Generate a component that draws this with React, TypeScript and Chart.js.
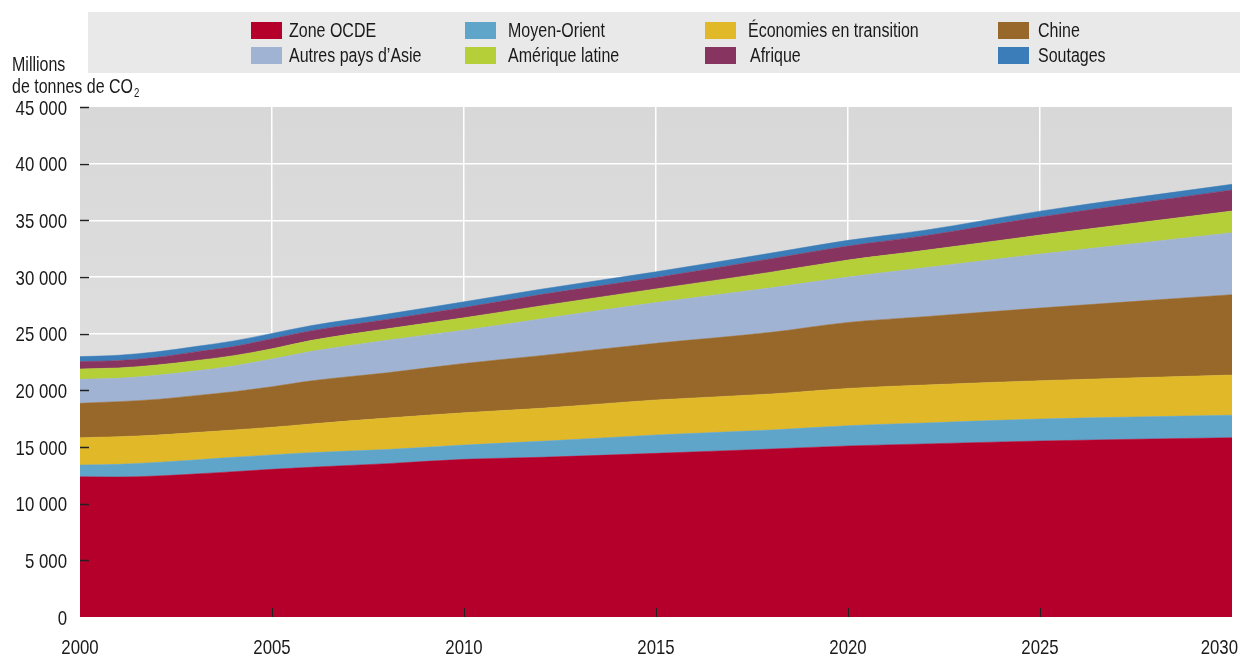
import React, { useEffect, useRef } from "react";
import { Chart, registerables } from "chart.js";

Chart.register(...registerables);

const FONT = "'Liberation Sans', Arial, sans-serif";
const SX = 0.8; // horizontal condensing of text

// Years
const years = [2000, 2001, 2002, 2003, 2004, 2005, 2006, 2008, 2010, 2012, 2015, 2018, 2020, 2022, 2025, 2030];

// Series values (Mt CO2), bottom to top
const zoneOCDE = [12380, 12350, 12440, 12620, 12820, 13030, 13210, 13530, 13910, 14090, 14440, 14820, 15090, 15270, 15530, 15820];
const moyenOrient = [1030, 1120, 1200, 1240, 1270, 1270, 1290, 1250, 1260, 1410, 1620, 1680, 1790, 1850, 1940, 1980];
const economiesTransition = [2410, 2440, 2410, 2410, 2410, 2440, 2530, 2770, 2850, 2910, 3090, 3180, 3290, 3350, 3380, 3550];
const chine = [3040, 3090, 3150, 3260, 3380, 3580, 3800, 4000, 4350, 4650, 5000, 5440, 5820, 6030, 6410, 7090];
const autresAsie = [2120, 2070, 2120, 2180, 2270, 2440, 2590, 2880, 2940, 3240, 3590, 3930, 4010, 4320, 4760, 5470];
const ameriqueLatine = [910, 910, 910, 910, 910, 910, 970, 1000, 1090, 1150, 1210, 1380, 1500, 1530, 1680, 1910];
const afrique = [645, 645, 680, 770, 800, 885, 855, 825, 910, 1000, 1000, 1180, 1235, 1295, 1590, 1860];
const soutages = [440, 470, 490, 470, 500, 470, 450, 470, 500, 470, 510, 500, 500, 480, 520, 500];

const seriesLabels = [
  "Zone OCDE",
  "Moyen-Orient",
  "Économies en transition",
  "Chine",
  "Autres pays d’Asie",
  "Amérique latine",
  "Afrique",
  "Soutages",
];
const seriesColors = ["#b5002c", "#5fa5c9", "#e1b827", "#98682a", "#a1b3d3", "#b4cf37", "#873461", "#3a7db8"];
const seriesData = [zoneOCDE, moyenOrient, economiesTransition, chine, autresAsie, ameriqueLatine, afrique, soutages];

const legendOrder = [0, 1, 2, 3, 4, 5, 6, 7];

const xTickValues = [2000, 2005, 2010, 2015, 2020, 2025, 2030];
const yTickValues = [0, 5000, 10000, 15000, 20000, 25000, 30000, 35000, 40000, 45000];

const fmtY = (v: number) => (v === 0 ? "0" : `${v / 1000} 000`);

function drawText(c: CanvasRenderingContext2D, text: string, x: number, y: number, size: number, align: "left" | "right" | "center" = "left", baseline: CanvasTextBaseline = "alphabetic") {
  c.save();
  c.font = `${size}px ${FONT}`;
  c.textAlign = "left";
  c.textBaseline = baseline;
  const w = c.measureText(text).width * SX;
  let left = x;
  if (align === "right") left = x - w;
  else if (align === "center") left = x - w / 2;
  c.translate(left, y);
  c.scale(SX, 1);
  c.fillText(text, 0, 0);
  c.restore();
  return w;
}

export default function App() {
  const ref = useRef<HTMLCanvasElement>(null);

  useEffect(() => {
    document.body.style.margin = "0";
    const canvas = ref.current!;
    const ctx = canvas.getContext("2d")!;

    const decor = {
      id: "decor",
      beforeDraw(chart: any) {
        const c = chart.ctx as CanvasRenderingContext2D;
        const a = chart.chartArea;
        c.save();
        // legend box
        c.fillStyle = "#e9e9e9";
        c.fillRect(88, 12, 1240 - 88, 61);
        const colX = [251, 465, 705, 998];
        const textX = [289, 508, 748, 1038];
        const rowY = [22, 47];
        legendOrder.forEach((si, i) => {
          const col = i % 4;
          const row = Math.floor(i / 4);
          c.fillStyle = seriesColors[si];
          c.fillRect(colX[col], rowY[row], 31, 17);
          c.fillStyle = "#1a1a1a";
          const tx = si === 6 ? textX[col] + 2 : textX[col];
          drawText(c, seriesLabels[si], tx, rowY[row] + 15, 20);
        });
        // axis title
        c.fillStyle = "#1a1a1a";
        drawText(c, "Millions", 12, 71, 20);
        const w = drawText(c, "de tonnes de CO", 12, 93, 20);
        drawText(c, "2", 12 + w + 1, 97, 12);
        // plot background
        const g = c.createLinearGradient(0, a.top, 0, a.bottom);
        g.addColorStop(0, "#d8d8d8");
        g.addColorStop(1, "#e4e4e4");
        c.fillStyle = g;
        c.fillRect(a.left, a.top, a.right - a.left, a.bottom - a.top);
        c.restore();
      },
      afterDatasetsDraw(chart: any) {
        const c = chart.ctx as CanvasRenderingContext2D;
        const a = chart.chartArea;
        const ys = chart.scales.y;
        const xs = chart.scales.x;
        c.save();
        c.strokeStyle = "#222";
        c.lineWidth = 1.5;
        yTickValues.forEach((v) => {
          if (v === 0) return;
          const y = Math.round(ys.getPixelForValue(v)) + 0.5;
          c.beginPath();
          c.moveTo(a.left, y);
          c.lineTo(a.left + 9, y);
          c.stroke();
        });
        c.lineWidth = 1;
        xTickValues.forEach((v) => {
          if (v === 2000 || v === 2030) return;
          const x = Math.round(xs.getPixelForValue(v)) + 0.5;
          c.beginPath();
          c.moveTo(x, a.bottom);
          c.lineTo(x, a.bottom - 9);
          c.stroke();
        });
        c.fillStyle = "#1a1a1a";
        // y labels
        yTickValues.forEach((v) => {
          const y = ys.getPixelForValue(v);
          drawText(c, fmtY(v), 67, y + 7.5, 21, "right");
        });
        // x labels
        xTickValues.forEach((v) => {
          const x = xs.getPixelForValue(v);
          const label = String(v);
          c.font = `21px ${FONT}`;
          const w = c.measureText(label).width * SX;
          let left = x - w / 2;
          if (left + w > 1238) left = 1238 - w;
          drawText(c, label, left, 654, 21, "left");
        });
        c.restore();
      },
    };

    const chart = new Chart(ctx, {
      type: "line",
      data: {
        datasets: seriesData.map((arr, i) => ({
          label: seriesLabels[i],
          data: arr.map((v, j) => ({ x: years[j], y: v })),
          backgroundColor: seriesColors[i],
          borderColor: seriesColors[i],
          borderWidth: 0.5,
          pointRadius: 0,
          fill: i === 0 ? "origin" : "-1",
          cubicInterpolationMode: "monotone" as const,
        })),
      },
      options: {
        responsive: false,
        animation: false,
        events: [],
        layout: { padding: { top: 107, right: 8, left: 0, bottom: 0 } },
        plugins: { legend: { display: false }, tooltip: { enabled: false }, title: { display: false } },
        scales: {
          x: {
            type: "linear",
            min: 2000,
            max: 2030,
            ticks: { display: false, stepSize: 5 },
            border: { display: false },
            grid: {
              drawTicks: false,
              lineWidth: 1.5,
              color: (c: any) => (c.tick && (c.tick.value === 2000 || c.tick.value === 2030) ? "rgba(0,0,0,0)" : "#ffffff"),
            },
            afterFit: (s: any) => {
              s.height = 39;
            },
          },
          y: {
            stacked: true,
            min: 0,
            max: 45000,
            border: { display: false },
            ticks: { display: false, stepSize: 5000 },
            grid: {
              drawTicks: false,
              lineWidth: 1.5,
              color: (c: any) => (c.tick && (c.tick.value === 0 || c.tick.value === 45000) ? "rgba(0,0,0,0)" : "#ffffff"),
            },
            afterFit: (s: any) => {
              s.width = 80;
            },
          },
        },
      },
      plugins: [decor],
    });

    return () => chart.destroy();
  }, []);

  return (
    <div style={{ width: 1240, height: 656, position: "relative" }}>
      <canvas ref={ref} width={1240} height={656} style={{ display: "block", width: 1240, height: 656 }} />
    </div>
  );
}
